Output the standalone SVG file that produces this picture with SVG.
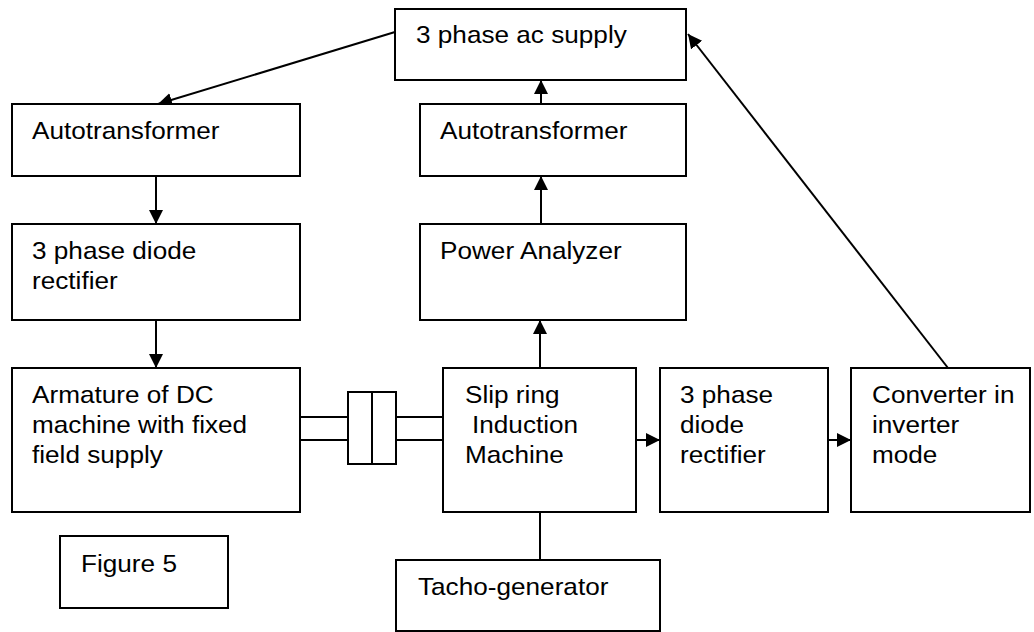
<svg xmlns="http://www.w3.org/2000/svg" width="1034" height="632" viewBox="0 0 1034 632">
<style>
.box{fill:#fff;stroke:#000;stroke-width:2}
.ln{fill:none;stroke:#000;stroke-width:2}
.t{font-family:"Liberation Sans",Arial,sans-serif;font-size:24px;fill:#000}
</style>
<defs>
<marker id="ah" markerUnits="userSpaceOnUse" markerWidth="16" markerHeight="16" refX="14" refY="7" orient="auto">
<path d="M0,0 L14,7 L0,14 z" fill="#000"/>
</marker>
</defs>
<rect width="1034" height="632" fill="#fff"/>
<g id="connectors">
<line class="ln" x1="395" y1="32" x2="158" y2="104" marker-end="url(#ah)"/>
<line class="ln" x1="156" y1="176" x2="156" y2="224" marker-end="url(#ah)"/>
<line class="ln" x1="156" y1="320" x2="156" y2="368" marker-end="url(#ah)"/>
<line class="ln" x1="541" y1="104" x2="541" y2="80" marker-end="url(#ah)"/>
<line class="ln" x1="541" y1="224" x2="541" y2="176" marker-end="url(#ah)"/>
<line class="ln" x1="540" y1="368" x2="540" y2="320" marker-end="url(#ah)"/>
<line class="ln" x1="636" y1="440" x2="660" y2="440" marker-end="url(#ah)"/>
<line class="ln" x1="828" y1="440" x2="851" y2="440" marker-end="url(#ah)"/>
<line class="ln" x1="948" y1="368" x2="688" y2="34" marker-end="url(#ah)"/>
<line class="ln" x1="540" y1="512" x2="540" y2="560"/>
<line class="ln" x1="300" y1="417" x2="348" y2="417"/>
<line class="ln" x1="300" y1="440" x2="348" y2="440"/>
<line class="ln" x1="396" y1="417" x2="443" y2="417"/>
<line class="ln" x1="396" y1="440" x2="443" y2="440"/>
</g>
<g id="coupling">
<rect class="box" x="348" y="392" width="48" height="72"/>
<line class="ln" x1="372" y1="392" x2="372" y2="464"/>
</g>
<g id="supply">
<rect class="box" x="395" y="9" width="291" height="71"/>
<text class="t" transform="matrix(1.09 0 0 1 416 43)">3 phase ac supply</text>
</g>
<g id="autotransformer-left">
<rect class="box" x="12" y="104" width="288" height="72"/>
<text class="t" transform="matrix(1.09 0 0 1 32 139)">Autotransformer</text>
</g>
<g id="rectifier-left">
<rect class="box" x="12" y="224" width="288" height="96"/>
<text class="t" transform="matrix(1.09 0 0 1 32 259)">3 phase diode</text>
<text class="t" transform="matrix(1.09 0 0 1 32 289)">rectifier</text>
</g>
<g id="armature">
<rect class="box" x="12" y="368" width="288" height="144"/>
<text class="t" transform="matrix(1.09 0 0 1 32 403)">Armature of DC</text>
<text class="t" transform="matrix(1.09 0 0 1 32 433)">machine with fixed</text>
<text class="t" transform="matrix(1.09 0 0 1 32 463)">field supply</text>
</g>
<g id="figure-label">
<rect class="box" x="60" y="536" width="168" height="72"/>
<text class="t" transform="matrix(1.09 0 0 1 81 572)">Figure 5</text>
</g>
<g id="autotransformer-right">
<rect class="box" x="420" y="104" width="266" height="72"/>
<text class="t" transform="matrix(1.09 0 0 1 440 139)">Autotransformer</text>
</g>
<g id="power-analyzer">
<rect class="box" x="420" y="224" width="266" height="96"/>
<text class="t" transform="matrix(1.09 0 0 1 440 259)">Power Analyzer</text>
</g>
<g id="slip-ring">
<rect class="box" x="443" y="368" width="193" height="144"/>
<text class="t" transform="matrix(1.09 0 0 1 465 403)">Slip ring</text>
<text class="t" transform="matrix(1.09 0 0 1 472 433)">Induction</text>
<text class="t" transform="matrix(1.09 0 0 1 465 463)">Machine</text>
</g>
<g id="rectifier-right">
<rect class="box" x="660" y="368" width="168" height="144"/>
<text class="t" transform="matrix(1.09 0 0 1 680 403)">3 phase</text>
<text class="t" transform="matrix(1.09 0 0 1 680 433)">diode</text>
<text class="t" transform="matrix(1.09 0 0 1 680 463)">rectifier</text>
</g>
<g id="converter">
<rect class="box" x="851" y="368" width="179" height="144"/>
<text class="t" transform="matrix(1.09 0 0 1 872 403)">Converter in</text>
<text class="t" transform="matrix(1.09 0 0 1 872 433)">inverter</text>
<text class="t" transform="matrix(1.09 0 0 1 872 463)">mode</text>
</g>
<g id="tacho">
<rect class="box" x="396" y="560" width="264" height="71"/>
<text class="t" transform="matrix(1.09 0 0 1 418 595)">Tacho-generator</text>
</g>
</svg>
